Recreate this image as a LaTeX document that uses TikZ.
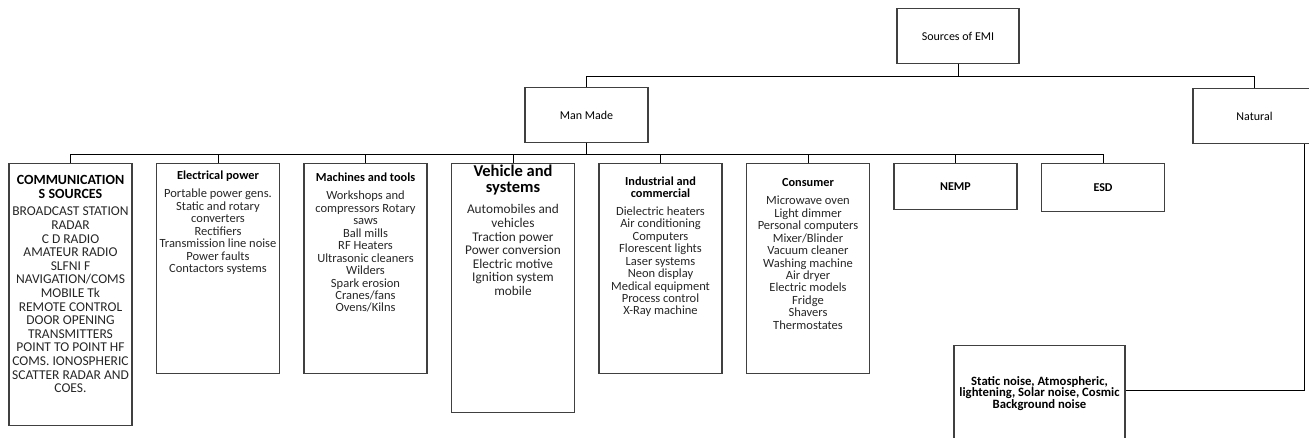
\documentclass[tikz,border=0pt]{standalone}
\usepackage{fontspec}
\setmainfont{Carlito}
\usepackage{tikz}

\begin{document}
\begin{tikzpicture}[x=1pt,y=-1pt]
        \tikzstyle{box}=[draw=black!75, line width=1.1pt, minimum width=123pt, inner sep=0pt, anchor=north, font=\fontsize{12}{13}\selectfont]
        \tikzstyle{head}=[inner sep=0pt, anchor=north, align=center, font=\bfseries\fontsize{12.3}{12}\selectfont]
        \tikzstyle{body}=[inner sep=0pt, anchor=north, align=center, text=black!85, font=\fontsize{12.5}{12.45}\selectfont]
        \tikzstyle{wire}=[line width=1pt]

        \useasboundingbox (0,0) rectangle (1309,438);
        \clip (0,0) rectangle (1309,438);

        % top levels
        \node[box, minimum width=122pt, minimum height=55pt] (src) at (958,8) {Sources of EMI};
        \node[box, minimum height=55pt] (mm) at (586.5,87) {Man Made};
        \node[box, minimum height=55pt] (nat) at (1254.5,88) {Natural};

        % man made groups
        \node[box, minimum height=262pt] (comms) at (70.5,163) {};
        \node[box, minimum height=210pt] (elec) at (218,163) {};
        \node[box, minimum height=210pt] (mach) at (365.5,163) {};
        \node[box, minimum height=249pt] (veh) at (513,163) {};
        \node[box, minimum height=210pt] (ind) at (660.5,163) {};
        \node[box, minimum height=210pt] (cons) at (808,163) {};
        \node[box, minimum height=46pt, font=\bfseries\fontsize{12}{13}\selectfont] (nemp) at (955.5,163) {NEMP};
        \node[box, minimum height=48pt, font=\bfseries\fontsize{12}{13}\selectfont] (esd) at (1103,163) {ESD};

        % natural group
        \node[box, minimum width=171pt, minimum height=96pt, align=center, font=\bfseries\fontsize{12.7}{11.7}\selectfont] (stat) at (1039.5,345)
            {Static noise, Atmospheric,\\lightening, Solar noise, Cosmic\\Background noise};

        % texts in the boxes
        \node[head, font=\bfseries\fontsize{14}{13.3}\selectfont] (comms_h) at ([yshift=-12.5pt]comms.north) {COMMUNICATION\\S SOURCES};
        \node[body, font=\fontsize{13.5}{13.6}\selectfont] (comms_b) at ([yshift=-44pt]comms.north)
            {BROADCAST STATION\\RADAR\\C D RADIO\\AMATEUR RADIO\\SLFNI F\\NAVIGATION/COMS\\MOBILE Tk\\REMOTE CONTROL\\DOOR OPENING\\TRANSMITTERS\\POINT TO POINT HF\\COMS. IONOSPHERIC\\SCATTER RADAR AND\\COES.};

        \node[head] (elec_h) at ([yshift=-8pt]elec.north) {Electrical power};
        \node[body] (elec_b) at ([yshift=-26pt]elec.north)
            {Portable power gens.\\Static and rotary\\converters\\Rectifiers\\Transmission line noise\\Power faults\\Contactors systems};

        \node[head] (mach_h) at ([yshift=-10pt]mach.north) {Machines and tools};
        \node[body] (mach_b) at ([yshift=-28pt]mach.north)
            {Workshops and\\compressors Rotary\\saws\\Ball mills\\RF Heaters\\Ultrasonic cleaners\\Wilders\\Spark erosion\\Cranes/fans\\Ovens/Kilns};

        \node[head, font=\bfseries\fontsize{16.5}{16.7}\selectfont] (veh_h) at ([yshift=-1.5pt]veh.north) {Vehicle and\\systems};
        \node[body, font=\fontsize{13.3}{13.6}\selectfont] (veh_b) at ([yshift=-41.5pt]veh.north)
            {Automobiles and\\vehicles\\Traction power\\Power conversion\\Electric motive\\Ignition system\\mobile};

        \node[head] (ind_h) at ([yshift=-13.5pt]ind.north) {Industrial and\\commercial};
        \node[body] (ind_b) at ([yshift=-43.5pt]ind.north)
            {Dielectric heaters\\Air conditioning\\Computers\\Florescent lights\\Laser systems\\Neon display\\Medical equipment\\Process control\\X-Ray machine};

        \node[head] (cons_h) at ([yshift=-15.5pt]cons.north) {Consumer};
        \node[body] (cons_b) at ([yshift=-33pt]cons.north)
            {Microwave oven\\Light dimmer\\Personal computers\\Mixer/Blinder\\Vacuum cleaner\\Washing machine\\Air dryer\\Electric models\\Fridge\\Shavers\\Thermostates};

        % connectors
        \draw[wire] (src.south) -- ++(0,12) coordinate (top_bus);
        \draw[wire] (top_bus) -| (mm.north);
        \draw[wire] (top_bus) -| (nat.north);

        \draw[wire] (mm.south) -- ++(0,11) coordinate (mm_bus);
        \foreach \n in {comms,elec,mach,veh,ind,cons,nemp,esd} {
            \draw[wire] (mm_bus) -| (\n.north);
        }

        \draw[wire] ([xshift=49.5pt]nat.south) |- ([yshift=3pt]stat.east);

    \end{tikzpicture}
\end{document}
